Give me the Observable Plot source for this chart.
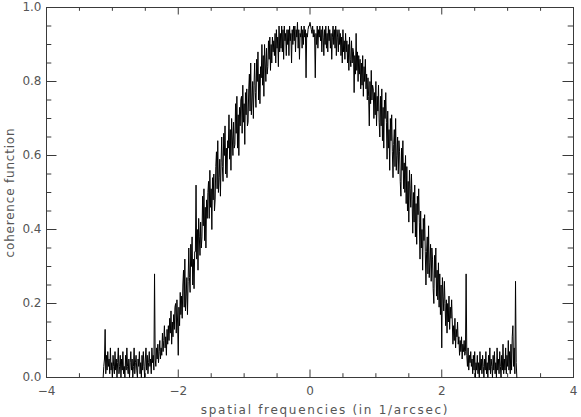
<!DOCTYPE html>
<html>
<head>
<meta charset="utf-8">
<script src="https://cdn.jsdelivr.net/npm/d3@7"></script>
<script src="https://cdn.jsdelivr.net/npm/@observablehq/plot@0.6"></script>
<style>
  html, body { margin: 0; padding: 0; background: #fff; }
</style>
</head>
<body>
<div id="chart"></div>
<script>
// ---- data ----
const xStart = -3.14;   // first sample (spatial frequency, 1/arcsec)
const xEnd = 3.14;      // last sample
const coherence = [
  0.00, 0.03, 0.05, 0.13, 0.01, 0.06, 0.02, 0.07, 0.03, 0.05,
  0.01, 0.08, 0.02, 0.04, 0.00, 0.06, 0.03, 0.01, 0.07, 0.02,
  0.05, 0.00, 0.04, 0.08, 0.01, 0.03, 0.06, 0.00, 0.05, 0.02,
  0.07, 0.01, 0.03, 0.00, 0.06, 0.02, 0.08, 0.03, 0.01, 0.05,
  0.00, 0.04, 0.07, 0.02, 0.05, 0.00, 0.03, 0.08, 0.01, 0.04,
  0.06, 0.02, 0.00, 0.05, 0.03, 0.07, 0.01, 0.04, 0.00, 0.06,
  0.02, 0.07, 0.03, 0.00, 0.05, 0.08, 0.02, 0.06, 0.01, 0.04,
  0.07, 0.03, 0.05, 0.01, 0.08, 0.04, 0.06, 0.02, 0.28, 0.05,
  0.03, 0.08, 0.05, 0.09, 0.04, 0.07, 0.10, 0.05, 0.08, 0.06,
  0.12, 0.07, 0.10, 0.14, 0.08, 0.11, 0.06, 0.13, 0.09, 0.14,
  0.10, 0.16, 0.12, 0.18, 0.09, 0.15, 0.11, 0.17, 0.13, 0.19,
  0.20, 0.12, 0.21, 0.15, 0.06, 0.19, 0.14, 0.23, 0.17, 0.22,
  0.16, 0.25, 0.29, 0.19, 0.32, 0.18, 0.22, 0.27, 0.17, 0.26,
  0.35, 0.27, 0.23, 0.36, 0.30, 0.38, 0.25, 0.32, 0.24, 0.34,
  0.34, 0.52, 0.32, 0.40, 0.29, 0.43, 0.38, 0.33, 0.42, 0.35,
  0.38, 0.49, 0.41, 0.51, 0.37, 0.46, 0.35, 0.48, 0.43, 0.50,
  0.53, 0.43, 0.56, 0.46, 0.51, 0.40, 0.54, 0.48, 0.55, 0.45,
  0.48, 0.57, 0.61, 0.51, 0.64, 0.50, 0.54, 0.59, 0.49, 0.58,
  0.65, 0.57, 0.53, 0.66, 0.60, 0.68, 0.55, 0.62, 0.54, 0.64,
  0.62, 0.71, 0.59, 0.67, 0.56, 0.70, 0.65, 0.60, 0.69, 0.62,
  0.63, 0.74, 0.66, 0.76, 0.62, 0.71, 0.60, 0.73, 0.68, 0.75,
  0.76, 0.66, 0.79, 0.69, 0.74, 0.63, 0.77, 0.71, 0.78, 0.68,
  0.69, 0.78, 0.82, 0.72, 0.85, 0.71, 0.75, 0.80, 0.70, 0.79,
  0.85, 0.77, 0.73, 0.86, 0.80, 0.88, 0.75, 0.82, 0.74, 0.84,
  0.81, 0.90, 0.79, 0.87, 0.76, 0.90, 0.85, 0.80, 0.89, 0.82,
  0.84, 0.91, 0.86, 0.92, 0.83, 0.90, 0.85, 0.92, 0.88, 0.91,
  0.87, 0.93, 0.85, 0.94, 0.89, 0.92, 0.84, 0.95, 0.88, 0.93,
  0.89, 0.95, 0.88, 0.94, 0.86, 0.95, 0.91, 0.93, 0.87, 0.94,
  0.90, 0.94, 0.87, 0.95, 0.91, 0.93, 0.85, 0.94, 0.90, 0.95,
  0.91, 0.95, 0.88, 0.94, 0.92, 0.96, 0.89, 0.94, 0.86, 0.93,
  0.92, 0.95, 0.89, 0.94, 0.90, 0.95, 0.92, 0.94, 0.81, 0.93,
  0.92, 0.94, 0.95, 0.95, 0.96, 0.95, 0.94, 0.93, 0.95, 0.92,
  0.94, 0.92, 0.81, 0.93, 0.90, 0.95, 0.89, 0.94, 0.92, 0.95,
  0.91, 0.94, 0.88, 0.95, 0.92, 0.87, 0.94, 0.90, 0.95, 0.89,
  0.93, 0.88, 0.95, 0.91, 0.94, 0.89, 0.93, 0.86, 0.92, 0.95,
  0.90, 0.94, 0.89, 0.95, 0.87, 0.94, 0.92, 0.88, 0.94, 0.90,
  0.93, 0.87, 0.92, 0.85, 0.94, 0.88, 0.91, 0.86, 0.93, 0.88,
  0.91, 0.85, 0.90, 0.83, 0.92, 0.86, 0.84, 0.91, 0.85, 0.89,
  0.88, 0.77, 0.87, 0.82, 0.93, 0.83, 0.88, 0.80, 0.87, 0.82,
  0.86, 0.78, 0.85, 0.79, 0.87, 0.76, 0.84, 0.80, 0.86, 0.78,
  0.82, 0.75, 0.81, 0.76, 0.68, 0.80, 0.74, 0.83, 0.75, 0.79,
  0.78, 0.70, 0.77, 0.71, 0.80, 0.68, 0.76, 0.72, 0.79, 0.69,
  0.65, 0.76, 0.68, 0.78, 0.64, 0.73, 0.62, 0.75, 0.70, 0.77,
  0.69, 0.59, 0.72, 0.62, 0.67, 0.56, 0.70, 0.64, 0.71, 0.61,
  0.54, 0.63, 0.67, 0.57, 0.70, 0.56, 0.60, 0.65, 0.55, 0.64,
  0.61, 0.53, 0.49, 0.62, 0.56, 0.64, 0.51, 0.58, 0.50, 0.60,
  0.47, 0.57, 0.45, 0.53, 0.42, 0.56, 0.51, 0.46, 0.55, 0.48,
  0.39, 0.50, 0.42, 0.52, 0.38, 0.47, 0.36, 0.49, 0.44, 0.51,
  0.42, 0.32, 0.45, 0.35, 0.40, 0.29, 0.43, 0.37, 0.44, 0.34,
  0.25, 0.34, 0.38, 0.28, 0.41, 0.27, 0.31, 0.36, 0.26, 0.35,
  0.32, 0.24, 0.20, 0.33, 0.27, 0.35, 0.22, 0.29, 0.21, 0.31,
  0.19, 0.28, 0.17, 0.25, 0.08, 0.27, 0.22, 0.18, 0.26, 0.20,
  0.14, 0.21, 0.12, 0.20, 0.15, 0.22, 0.13, 0.19, 0.16, 0.21,
  0.15, 0.09, 0.14, 0.10, 0.16, 0.08, 0.13, 0.11, 0.15, 0.09,
  0.11, 0.06, 0.10, 0.07, 0.11, 0.05, 0.09, 0.07, 0.10, 0.06,
  0.07, 0.28, 0.06, 0.03, 0.08, 0.02, 0.06, 0.04, 0.07, 0.03,
  0.05, 0.01, 0.06, 0.02, 0.07, 0.00, 0.04, 0.02, 0.06, 0.01,
  0.04, 0.00, 0.07, 0.02, 0.05, 0.01, 0.06, 0.03, 0.00, 0.05,
  0.02, 0.07, 0.01, 0.04, 0.00, 0.06, 0.02, 0.08, 0.01, 0.05,
  0.03, 0.00, 0.06, 0.02, 0.07, 0.01, 0.04, 0.00, 0.08, 0.02,
  0.05, 0.01, 0.07, 0.03, 0.00, 0.06, 0.02, 0.09, 0.01, 0.05,
  0.02, 0.08, 0.01, 0.06, 0.03, 0.10, 0.02, 0.07, 0.01, 0.09,
  0.02, 0.11, 0.14, 0.03, 0.08, 0.01, 0.26, 0.04, 0.00
];
const xMajorTicks = [-4, -2, 0, 2, 4];
const xMinorTicks = [-3.5, -3, -2.5, -1.5, -1, -0.5, 0.5, 1, 1.5, 2.5, 3, 3.5];
const yMajorTicks = [0, 0.2, 0.4, 0.6, 0.8, 1.0];
const yMinorTicks = [0.05, 0.1, 0.15, 0.25, 0.3, 0.35, 0.45, 0.5, 0.55, 0.65, 0.7, 0.75, 0.85, 0.9, 0.95];
const xLabel = "spatial frequencies (in 1/arcsec)";
const yLabel = "coherence function";

// ---- build table ----
const n = coherence.length;
const data = coherence.map((v, i) => ({x: xStart + (xEnd - xStart) * i / (n - 1), y: v}));

const W = 581, H = 417;
const mL = 46, mR = 8, mT = 7, mB = 40;
const fw = W - mL - mR, fh = H - mT - mB;
const axisCol = "#3a3a3a", textCol = "#555";
const xMaj = 7.5, xMin = 3.8, yMaj = 10.5, yMin = 5.3;

const chart = Plot.plot({
  width: W, height: H,
  marginLeft: mL, marginRight: mR, marginTop: mT, marginBottom: mB,
  style: {fontFamily: "DejaVu Sans", fontSize: "12px", background: "#fff"},
  x: {domain: [-4, 4]},
  y: {domain: [0, 1]},
  marks: [
    Plot.ruleX(xMajorTicks, {x: d => d, insetTop: fh - xMaj, stroke: axisCol}),
    Plot.ruleX(xMinorTicks, {x: d => d, insetTop: fh - xMin, stroke: axisCol}),
    Plot.ruleX(xMajorTicks, {x: d => d, insetBottom: fh - xMaj, stroke: axisCol}),
    Plot.ruleX(xMinorTicks, {x: d => d, insetBottom: fh - xMin, stroke: axisCol}),
    Plot.ruleY(yMajorTicks, {y: d => d, insetRight: fw - yMaj, stroke: axisCol}),
    Plot.ruleY(yMinorTicks, {y: d => d, insetRight: fw - yMin, stroke: axisCol}),
    Plot.ruleY(yMajorTicks, {y: d => d, insetLeft: fw - yMaj, stroke: axisCol}),
    Plot.ruleY(yMinorTicks, {y: d => d, insetLeft: fw - yMin, stroke: axisCol}),
    Plot.frame({stroke: axisCol}),
    Plot.axisX({ticks: xMajorTicks, tickSize: 0, tickPadding: 9, color: textCol,
      label: xLabel, labelAnchor: "center", labelArrow: "none", labelOffset: 36}),
    Plot.axisY({ticks: yMajorTicks, tickSize: 0, tickPadding: 5, tickFormat: ".1f", color: textCol,
      label: yLabel, labelAnchor: "center", labelArrow: "none", labelOffset: 41}),
    Plot.line(data, {x: "x", y: "y", stroke: "#000", strokeWidth: 1})
  ]
});
d3.select(chart).selectAll('g[aria-label="x-axis label"] text')
  .style("letter-spacing", "1.7px").attr("dx", 15);
d3.select(chart).selectAll('g[aria-label="y-axis label"] text').style("letter-spacing", "0.8px");
document.getElementById("chart").appendChild(chart);
</script>
</body>
</html>
